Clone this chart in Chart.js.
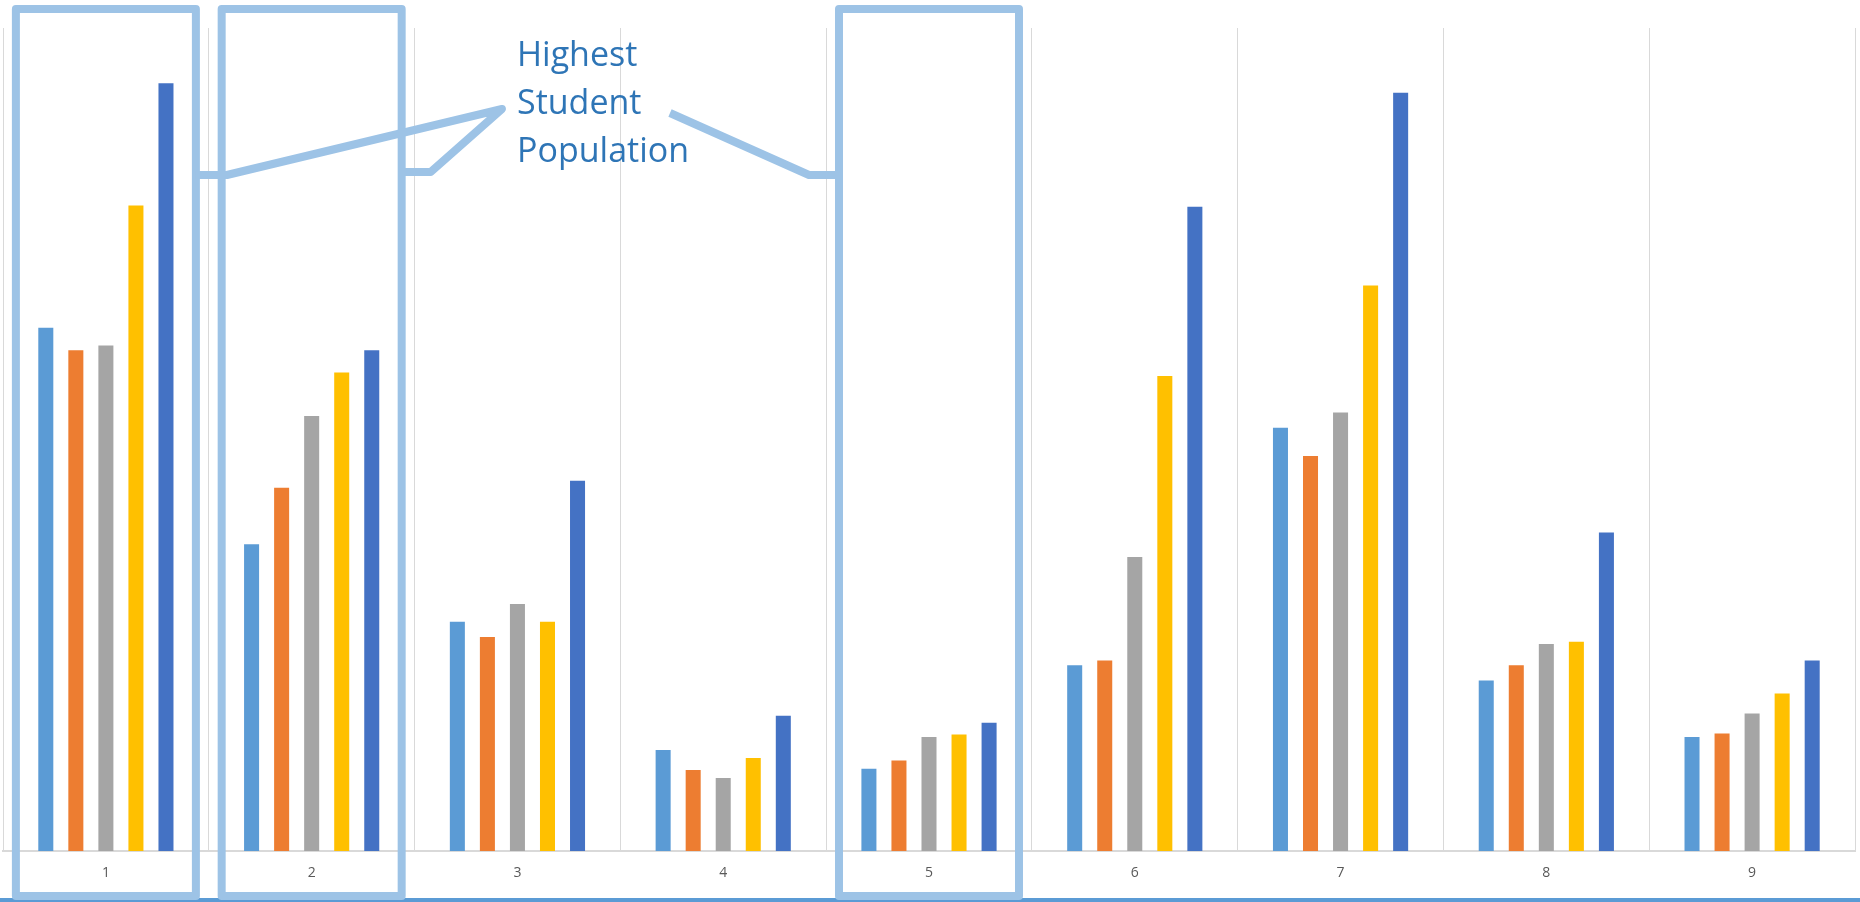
<!DOCTYPE html>
<html>
<head>
<meta charset="utf-8">
<script src="https://cdn.jsdelivr.net/npm/chart.js@4/dist/chart.umd.min.js"></script>
<style>
  html, body { margin: 0; padding: 0; background: #fff; }
  #wrap { width: 1860px; height: 902px; }
</style>
</head>
<body>
<div id="wrap"><canvas id="chart" width="1860" height="902"></canvas></div>
<script>
// categories and series (y axis hidden, max 7000)
var categories = ['1', '2', '3', '4', '5', '6', '7', '8', '9'];
var series1 = [4450, 2610, 1950, 860, 700, 1580, 3600, 1450, 970];
var series2 = [4260, 3090, 1820, 690, 770, 1620, 3360, 1580, 1000];
var series3 = [4300, 3700, 2100, 620, 970, 2500, 3730, 1760, 1170];
var series4 = [5490, 4070, 1950, 790, 990, 4040, 4810, 1780, 1340];
var series5 = [6530, 4260, 3150, 1150, 1090, 5480, 6450, 2710, 1620];
var yMax = 7000;

// categories picked out by the callout boxes
var highlighted = ['1', '2', '5'];
var calloutText = ['Highest', 'Student', 'Population'];

var colors = ['#5B9BD5', '#ED7D31', '#A5A5A5', '#FFC000', '#4472C4'];

function makeSet(label, data, i) {
	return {
		label: label,
		data: data,
		backgroundColor: colors[i],
		borderWidth: 0,
		categoryPercentage: 0.73,
		barPercentage: 0.5
	};
}

var calloutPlugin = {
	id: 'callout',
	afterDraw: function (chart) {
		var ctx = chart.ctx;
		var xs = chart.scales.x;
		ctx.save();

		// bottom blue edge
		ctx.fillStyle = '#5B9BD5';
		ctx.fillRect(0, 898, chart.width, 4);

		ctx.strokeStyle = '#9DC3E6';
		ctx.lineWidth = 8;
		ctx.lineJoin = 'round';
		ctx.lineCap = 'butt';

		var boxes = highlighted.map(function (c) {
			var cx = xs.getPixelForValue(categories.indexOf(c));
			return { left: cx - 90, right: cx + 90 };
		});
		boxes.forEach(function (b) {
			ctx.strokeRect(b.left, 9, b.right - b.left, 887);
		});

		// leader lines to the text
		var tip = { x: 502, y: 109 };
		ctx.beginPath();
		ctx.moveTo(boxes[0].right, 175);
		ctx.lineTo(boxes[0].right + 31, 175);
		ctx.lineTo(tip.x, tip.y);
		ctx.lineTo(boxes[1].right + 29, 172);
		ctx.lineTo(boxes[1].right, 172);
		ctx.stroke();

		ctx.beginPath();
		ctx.moveTo(670, 113);
		ctx.lineTo(809, 175);
		ctx.lineTo(boxes[2].left, 175);
		ctx.stroke();

		ctx.fillStyle = '#2E75B6';
		ctx.font = '34px "Open Sans"';
		ctx.textBaseline = 'alphabetic';
		calloutText.forEach(function (t, i) {
			ctx.fillText(t, 517, 66 + i * 48);
		});
		ctx.restore();
	}
};

new Chart(document.getElementById('chart'), {
	type: 'bar',
	data: {
		labels: categories,
		datasets: [
			makeSet('Series1', series1, 0),
			makeSet('Series2', series2, 1),
			makeSet('Series3', series3, 2),
			makeSet('Series4', series4, 3),
			makeSet('Series5', series5, 4)
		]
	},
	options: {
		responsive: false,
		animation: false,
		layout: { padding: { left: 3, right: 5, top: 28, bottom: 0 } },
		plugins: { legend: { display: false }, tooltip: { enabled: false } },
		scales: {
			x: {
				grid: { color: '#D9D9D9', lineWidth: 1, drawTicks: false },
				border: { color: '#D9D9D9', width: 2 },
				ticks: { color: '#595959', font: { family: 'Open Sans', size: 14 }, padding: 14 },
				afterFit: function (scale) { scale.height = 51; }
			},
			y: {
				display: false,
				min: 0,
				max: yMax
			}
		}
	},
	plugins: [calloutPlugin]
});
</script>
</body>
</html>
